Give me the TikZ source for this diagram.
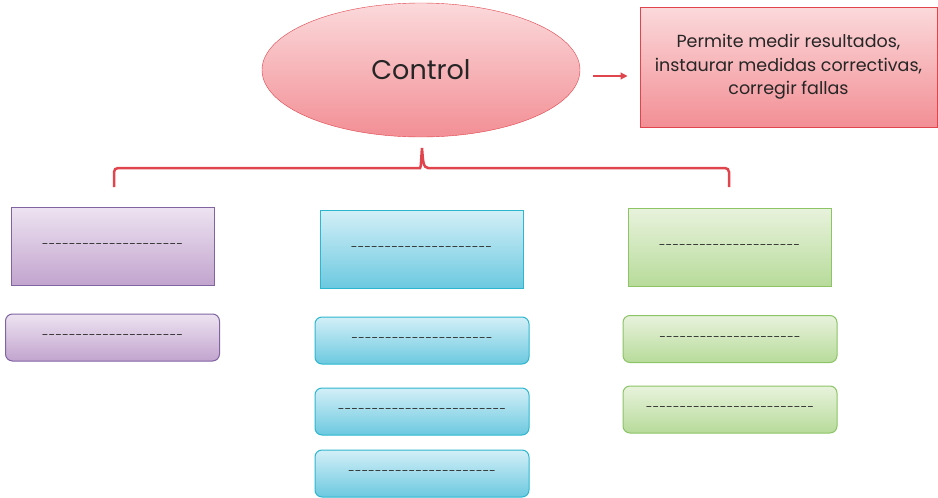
\documentclass[tikz,border=0pt]{standalone}
\usepackage{fontspec}
\setmainfont{Poppins}[Ligatures=TeXOff]
\usepackage{tikz}
\usetikzlibrary{calc,positioning,shapes,arrows.meta}

\definecolor{redline}{HTML}{E0444C}
\definecolor{redtop}{HTML}{FBD9DB}
\definecolor{redbot}{HTML}{F28F95}
\definecolor{purline}{HTML}{8064A2}
\definecolor{purtop}{HTML}{EDE3F1}
\definecolor{purbot}{HTML}{C2A4CE}
\definecolor{cyanline}{HTML}{2DB7CF}
\definecolor{cyantop}{HTML}{D3EFF7}
\definecolor{cyanbot}{HTML}{6CC9E0}
\definecolor{grnline}{HTML}{8CC466}
\definecolor{grntop}{HTML}{E8F2DC}
\definecolor{grnbot}{HTML}{B7DB9A}

\begin{document}
\begin{tikzpicture}[x=1pt, y=-1pt,
  ell/.style={draw=redline, ellipse, top color=redtop, bottom color=redbot, minimum width=318pt, minimum height=134pt, inner sep=0pt, font=\fontsize{27}{30}\selectfont, text=black!85},
  descbox/.style={draw=redline, line width=1pt, top color=redtop, bottom color=redbot, minimum width=297pt, minimum height=120pt, align=center, font=\fontsize{17.5}{23.5}\selectfont, text=black!85},
  hdbox/.style={draw=#1line, line width=1pt, top color=#1top, bottom color=#1bot, minimum width=203pt, minimum height=78pt, font=\fontsize{12.2}{14}\selectfont, text=black!80},
  itbox/.style={draw=#1line, line width=1pt, rounded corners=7pt, top color=#1top, bottom color=#1bot, minimum width=214pt, minimum height=47pt, font=\fontsize{12.2}{14}\selectfont, text=black!80},
  brace/.style={draw=redline, line width=2.5pt, rounded corners=4pt}]
\useasboundingbox (0,0) rectangle (938,498);

\node[ell] (ctrl) at (421,70) {Control};
\node[descbox] (desc) at (788.5,67) {Permite medir resultados,\\ instaurar medidas correctivas,\\ corregir fallas};
\draw[redline, line width=1.2pt, -{Triangle[length=7pt, width=7pt]}, shorten <=13pt, shorten >=12pt] (ctrl.east |- 0,76) -- (desc.west |- 0,76);

% llave
\draw[brace] (114,187) -- (114,168) -- (416,168) [sharp corners] .. controls (421,168) and (421,160) .. (422,148)
  .. controls (423,160) and (423,168) .. (428,168) [rounded corners=4pt] -- (729,168) -- (729,187);

% cajas
\foreach \n/\x/\y/\c/\t in {p1/112.5/246/pur/{---------------------}, c1/421.5/249/cyan/{---------------------}, g1/729.5/247.5/grn/{---------------------}}{
  \node[hdbox=\c] (\n) at (\x,\y) {\t};
}
\foreach \n/\x/\y/\c/\t in {p2/112.5/337.5/pur/{---------------------}, c2/422/340.5/cyan/{---------------------}, c3/422/411.5/cyan/{-------------------------}, c4/422/473.5/cyan/{----------------------}, g2/730/339/grn/{---------------------}, g3/730/409.5/grn/{-------------------------}}{
  \node[itbox=\c] (\n) at (\x,\y) {\t};
}

\end{tikzpicture}
\end{document}
